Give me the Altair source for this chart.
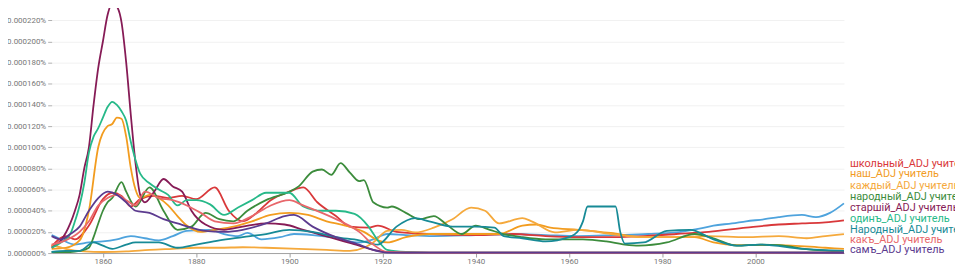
import altair as alt
import pandas as pd

# ---- values (units: 0.000001 %) ----
blue_years = [1849,1851,1854,1857,1860,1863,1866,1869,1872,1875,1878,1883,1886,1889,1891,1894,1898,1901,1905,1909,1915,1918,1921,1925,1931,1940,1948,1955,1962,1970,1977,1984,1988,1991,1995,1998,2002,2005,2010,2013,2016,2019]
blue_vals  = [17,13,8,10,11,13,16,14,12,16,21,22,18,16,19,13,15,18,17,15,10,13,18,17,16,17,18,17,16,17,18,20,23,26,28,30,32,34,36,34,38,47]

red_years = [1849,1852,1854,1857,1860,1862,1864,1866,1868,1871,1874,1877,1880,1884,1887,1890,1893,1896,1900,1903,1906,1910,1913,1917,1919,1923,1930,1940,1948,1955,1962,1970,1976,1983,1990,1998,2005,2010,2015,2019]
red_vals  = [6,16,13,26,51,57,54,44,51,54,52,54,51,62,40,30,38,50,58,62,48,35,25,24,26,20,18,17,18,16,15,15,16,18,20,24,27,28,29,31]

nash_years = [1849,1852,1855,1857,1859,1861,1862,1863,1864,1865,1866,1867,1868,1870,1872,1874,1876,1878,1881,1884,1888,1892,1896,1900,1904,1908,1912,1916,1919,1921,1925,1930,1940,1945,1950,1953,1956,1962,1969,1976,1983,1987,1991,1996,2005,2015,2019]
nash_vals  = [4,5,12,40,100,120,122,128,127,110,80,60,52,55,52,45,35,26,20,22,25,30,36,38,36,30,26,20,12,10,15,18,18,18,26,27,24,22,19,15,15,15,10,7.5,7.5,5,4]

kazh_years = [1849,1852,1856,1860,1865,1870,1875,1880,1885,1890,1895,1902,1908,1913,1916,1918,1921,1924,1927,1931,1935,1939,1942,1945,1950,1952,1957,1962,1969,1976,1983,1990,1998,2005,2011,2015,2019]
kazh_vals  = [8,4,1.5,1,1.5,3,4,5,5,5.5,5,4,3,2,5,10,21,22,19.5,24,32,43,40,28,33,30,19.5,22,18,15,15,16,15,16,14,16,18]

narod_years = [1849,1853,1855,1857,1858,1859,1860,1861,1862,1864,1865,1867,1870,1873,1876,1879,1882,1885,1888,1891,1895,1900,1902,1905,1907,1909,1911,1913,1915,1916,1918,1921,1922,1925,1928,1931,1934,1937,1940,1943,1946,1950,1955,1963,1968,1972,1975,1981,1987,1991,1996,2001,2005,2011,2019]
narod_vals  = [1,1,2,5,15,28,40,48,52,67,58,44,62,40,22,25,38,32,30,40,50,58,63,77,79,74,85,76,68,69,48,43,44,38,32,35,26,18,26,22,18,15,13,13,11,8,7,10,18,14,7,8,7.5,3.7,1.3]

starsh_years = [1849,1851,1853,1854,1855,1856,1857,1858,1859,1860,1861,1862,1863,1864,1865,1866,1867,1868,1869,1871,1873,1875,1877,1879,1882,1886,1890,1895,1899,1903,1907,1911,1915,1918,1921,1930,2019]
starsh_vals  = [5,12,28,40,55,80,100,140,175,200,225,236,233,218,180,130,85,55,48,58,70,63,58,40,27,22,25,28,27,22,17,12,7,3,1,0.5,0.5]

odin_years = [1849,1851,1853,1854,1855,1856,1857,1858,1859,1860,1861,1862,1863,1864,1865,1866,1867,1868,1870,1872,1874,1876,1878,1880,1883,1886,1889,1892,1895,1900,1903,1907,1910,1914,1917,1919,1921,1925,1930,2019]
odin_vals  = [5,10,18,30,45,66,95,110,118,128,138,143,140,134,125,105,88,75,66,60,55,45,50,50,46,36,43,50,57,57,44,40,40,37,25,12,3,1,0.5,0.5]

Narod_years = [1849,1852,1855,1858,1860,1862,1865,1867,1872,1876,1880,1885,1890,1895,1900,1905,1910,1915,1919,1923,1927,1930,1935,1940,1944,1946,1950,1955,1960,1962,1963,1964,1970,1971,1972,1976,1981,1986,1991,1996,2001,2010,2019]
Narod_vals  = [1,2,2,10,7,4,8,10,10,5,8,12,15,18,22,20,15,12,8,25,33,30,25,25,24,16,14,11,15,21,30,44,44,20,9,10,21,22,13,7,8,4,2]

kak_years = [1849,1852,1855,1857,1859,1861,1863,1865,1867,1869,1872,1875,1878,1881,1884,1888,1892,1896,1900,1903,1907,1911,1915,1918,1921,1930,2019]
kak_vals  = [8,12,20,30,45,52,55,50,45,58,52,50,45,38,30,28,35,45,50,45,38,30,20,8,1,0.3,0.3]

sam_years = [1849,1851,1853,1855,1857,1859,1861,1863,1865,1867,1870,1873,1876,1879,1882,1886,1890,1895,1899,1901,1905,1910,1915,1918,1921,2019]
sam_vals  = [16,13,18,25,40,52,58,55,48,40,38,32,28,24,21,20,22,28,35,36,25,15,8,3,0.5,0.3]

series_keys = ["blue", "школьный_ADJ учитель", "наш_ADJ учитель", "каждый_ADJ учитель",
               "народный_ADJ учитель", "старшій_ADJ учитель", "одинъ_ADJ учитель",
               "Народный_ADJ учитель", "какъ_ADJ учитель", "самъ_ADJ учитель"]
series_colors = ["#4ea3dd", "#d9383a", "#f29c1f", "#f5a93c", "#3c8c3c",
                 "#861b56", "#27b989", "#178a96", "#e8676b", "#5c3b8f"]
series_data = [(blue_years, blue_vals), (red_years, red_vals), (nash_years, nash_vals),
               (kazh_years, kazh_vals), (narod_years, narod_vals), (starsh_years, starsh_vals),
               (odin_years, odin_vals), (Narod_years, Narod_vals), (kak_years, kak_vals),
               (sam_years, sam_vals)]

# end-of-line labels (top to bottom) and their stacked anchor values
labels = ["школьный_ADJ учитель", "наш_ADJ учитель", "каждый_ADJ учитель", "народный_ADJ учитель",
          "старшій_ADJ учитель", "одинъ_ADJ учитель", "Народный_ADJ учитель", "какъ_ADJ учитель",
          "самъ_ADJ учитель"]
label_colors = ["#d9383a", "#f29c1f", "#f5a93c", "#3c8c3c", "#861b56", "#27b989", "#178a96",
                "#e8676b", "#5c3b8f"]
label_pos = [84.0, 74.5, 63.8, 53.0, 42.2, 31.9, 21.6, 12.2, 2.8]

y_ticks = [0, 20, 40, 60, 80, 100, 120, 140, 160, 180, 200, 220]
x_ticks = [1860, 1880, 1900, 1920, 1940, 1960, 1980, 2000]

rows = []
for order, (key, (yrs, vals)) in enumerate(zip(series_keys, series_data)):
    for yr, v in zip(yrs, vals):
        rows.append({"series": key, "z": order, "year": yr, "pct": v * 1e-6})
df = pd.DataFrame(rows)

lab_df = pd.DataFrame({"label": labels, "color": label_colors,
                       "pos": [p * 1e-6 for p in label_pos], "year": 2019})

xscale = alt.Scale(domain=[1849, 2019], nice=False, zero=False)
yscale = alt.Scale(domain=[0, 230.6e-6], nice=False, zero=True)

lines = alt.Chart(df).mark_line(strokeWidth=1.8, interpolate="monotone").encode(
    x=alt.X("year:Q", scale=xscale,
            axis=alt.Axis(values=x_ticks, tickCount=len(x_ticks), format="d", title=None,
                          grid=False, domainColor="#a0a0a0", tickColor="#a0a0a0", tickSize=4,
                          labelColor="#777777", labelFontSize=8, labelPadding=1,
                          labelFont="Roboto")),
    y=alt.Y("pct:Q", scale=yscale,
            axis=alt.Axis(values=[t * 1e-6 for t in y_ticks], tickCount=len(y_ticks),
                          labelExpr="format(datum.value, '.6f') + '%'",
                          labelOverlap=False,
                          title=None, grid=True, gridColor="#f1f1f1", domain=False,
                          tickColor="#b0b0b0", tickSize=4, labelPadding=2,
                          labelColor="#777777", labelFontSize=8, labelFont="Roboto")),
    color=alt.Color("series:N", scale=alt.Scale(domain=series_keys, range=series_colors),
                    legend=None),
    detail="series:N",
)

text = alt.Chart(lab_df).mark_text(align="left", baseline="middle", dx=6, fontSize=11,
                                   font="Roboto").encode(
    x=alt.X("year:Q", scale=xscale),
    y=alt.Y("pos:Q", scale=yscale),
    text="label:N",
    color=alt.Color("color:N", scale=None, legend=None),
)

chart = alt.layer(lines, text).resolve_scale(color="independent").properties(
    width=799, height=246,
    autosize=alt.AutoSizeParams(type="none"),
    padding={"left": 44, "top": 0, "right": 112, "bottom": 20},
    background="white",
).configure_view(stroke=None)

chart.save("out.html", embed_options={"renderer": "svg", "actions": False})
